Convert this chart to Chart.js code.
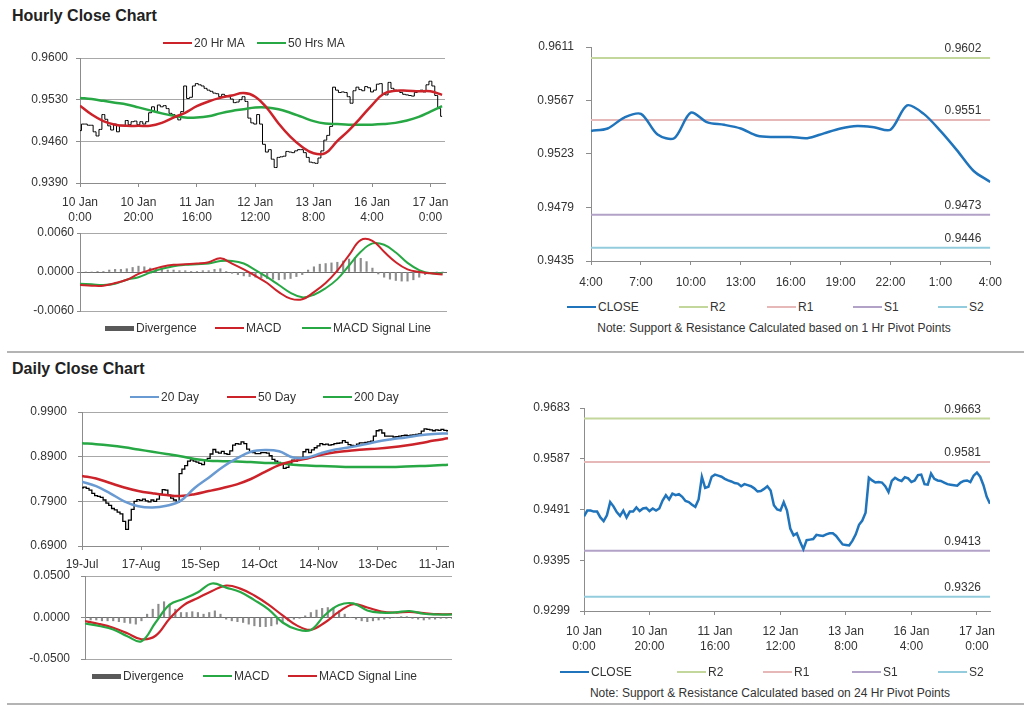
<!DOCTYPE html>
<html>
<head>
<meta charset="utf-8">
<script src="https://cdn.jsdelivr.net/npm/chart.js@4.4.0/dist/chart.umd.min.js"></script>
<style>
  body { margin: 0; width: 1024px; height: 706px; background: #fff; position: relative; overflow: hidden;
         font-family: "Liberation Sans", Arial, sans-serif; color: #333; }
  canvas { position: absolute; }
  .title { position: absolute; left: 12px; font-weight: bold; font-size: 16px; line-height: 18px; color: #222; }
  .sep { position: absolute; left: 7px; width: 1017px; height: 2px; background: #b4b4b4; }
  .lg { position: absolute; display: flex; align-items: center; font-size: 12px; line-height: 16px; white-space: nowrap; }
  .sw { display: inline-block; width: 29px; height: 2px; margin-right: 2px; }
  .box { display: inline-block; width: 29px; height: 5px; margin-right: 2px; }
  .note { position: absolute; font-size: 12px; line-height: 16px; white-space: nowrap; transform: translateX(-50%); }
</style>
</head>
<body>
<div class="title" style="top:7px">Hourly Close Chart</div>
<div class="sep" style="top:351px"></div>
<div class="title" style="top:360px">Daily Close Chart</div>
<div class="sep" style="top:703px"></div>

<canvas id="hourPrice"></canvas>
<canvas id="hourMacd"></canvas>
<canvas id="lastDay"></canvas>
<canvas id="dayPrice"></canvas>
<canvas id="dayMacd"></canvas>
<canvas id="weekClose"></canvas>

<div class="note" style="left:774px;top:320px">Note: Support &amp; Resistance Calculated based on 1 Hr Pivot Points</div>
<div class="note" style="left:770px;top:685px">Note: Support &amp; Resistance Calculated based on 24 Hr Pivot Points</div>

<script>
// ---- hourly closes, 10 Jan 0:00 -> 17 Jan 4:00 (one per hour)
const hourClose = [
  0.9478, 0.9489, 0.9489, 0.9487, 0.9487, 0.9476, 0.9469, 0.9480, 0.9505, 0.9497,
  0.9486, 0.9479, 0.9489, 0.9476, 0.9487, 0.9487, 0.9495, 0.9488, 0.9493, 0.9494,
  0.9488, 0.9493, 0.9489, 0.9493, 0.9508, 0.9518, 0.9510, 0.9521, 0.9518, 0.9520,
  0.9515, 0.9507, 0.9505, 0.9500, 0.9496, 0.9510, 0.9553, 0.9532, 0.9534, 0.9553,
  0.9557, 0.9555, 0.9553, 0.9549, 0.9546, 0.9544, 0.9541, 0.9540, 0.9535, 0.9539,
  0.9537, 0.9535, 0.9531, 0.9525, 0.9526, 0.9530, 0.9535, 0.9527, 0.9499, 0.9491,
  0.9489, 0.9505, 0.9489, 0.9455, 0.9442, 0.9446, 0.9430, 0.9416, 0.9433, 0.9434,
  0.9435, 0.9443, 0.9442, 0.9441, 0.9444, 0.9446, 0.9446, 0.9441, 0.9433, 0.9425,
  0.9424, 0.9423, 0.9432, 0.9444, 0.9462, 0.9470, 0.9485, 0.9551, 0.9546, 0.9542,
  0.9543, 0.9542, 0.9535, 0.9524, 0.9545, 0.9551, 0.9547, 0.9545, 0.9552, 0.9550,
  0.9543, 0.9546, 0.9556, 0.9557, 0.9539, 0.9538, 0.9559, 0.9549, 0.9546, 0.9545,
  0.9542, 0.9539, 0.9538, 0.9537, 0.9536, 0.9542, 0.9545, 0.9546, 0.9543, 0.9555,
  0.9561, 0.9553, 0.9537, 0.9515, 0.9502
];
// moving averages and MACD, read every 4 hours
const hourStep = 4;
const hourMa20 = [0.9520, 0.9505, 0.9494, 0.9488, 0.9486, 0.9486, 0.9486, 0.9491, 0.9500, 0.9508, 0.9519, 0.9527, 0.9533, 0.9537, 0.9541, 0.9535,
                  0.9516, 0.9490, 0.9468, 0.9451, 0.9440, 0.9440, 0.9460, 0.9478, 0.9499, 0.9521, 0.9540, 0.9545, 0.9545, 0.9544, 0.9544, 0.9538];
const hourMa50 = [0.9533, 0.9531, 0.9528, 0.9525, 0.9522, 0.9517, 0.9512, 0.9507, 0.9503, 0.9500, 0.9500, 0.9502, 0.9507, 0.9511, 0.9514, 0.9517,
                  0.9517, 0.9514, 0.9508, 0.9501, 0.9494, 0.9490, 0.9489, 0.9488, 0.9488, 0.9488, 0.9489, 0.9491, 0.9495, 0.9501, 0.9510, 0.9519];
const hourMacd = [-0.0020, -0.0021, -0.0021, -0.0017, -0.0012, -0.0003, 0.0003, 0.0008, 0.0011, 0.0012, 0.0013, 0.0015, 0.0021, 0.0013, 0.0004, -0.0006,
                  -0.0017, -0.0031, -0.0041, -0.0042, -0.0031, -0.0017, 0.0002, 0.0026, 0.0049, 0.0048, 0.0031, 0.0015, 0.0004, 0.0000, -0.0002, -0.0004];
const hourSignal = [-0.0018, -0.0019, -0.0020, -0.0018, -0.0012, -0.0008, -0.0001, 0.0005, 0.0009, 0.0011, 0.0012, 0.0013, 0.0017, 0.0017, 0.0013, 0.0003,
                    -0.0008, -0.0020, -0.0032, -0.0039, -0.0035, -0.0025, -0.0011, 0.0010, 0.0031, 0.0044, 0.0042, 0.0030, 0.0014, 0.0003, -0.0002, -0.0002];
// divergence, every 2 hours
const hourDivStep = 2;
const hourDiv = [
  0, 0, 0, 0.0001, 0.0001, 0.0003, 0.0004, 0.0004, 0.0005, 0.0007,
  0.0009, 0.0008, 0.0006, 0.0005, 0.0004, 0.0003, 0.0003, 0.0002, 0.0002, 0.0001,
  0.0001, 0.0002, 0.0002, 0.0004, 0.0005, 0.0001, -0.0002, -0.0004, -0.0006, -0.0007,
  -0.0008, -0.0009, -0.0010, -0.0011, -0.0012, -0.0011, -0.0010, -0.0007, -0.0004, 0.0003,
  0.0008, 0.0012, 0.0013, 0.0014, 0.0015, 0.0017, 0.0020, 0.0022, 0.0021, 0.0016,
  0.0006, -0.0003, -0.0008, -0.0011, -0.0013, -0.0014, -0.0014, -0.0012, -0.0008, -0.0004,
  -0.0001, 0, 0
];
const hourTicks = [0, 20, 40, 60, 80, 100, 120];
const hourTickLabels = [['10 Jan', '0:00'], ['10 Jan', '20:00'], ['11 Jan', '16:00'], ['12 Jan', '12:00'],
                        ['13 Jan', '8:00'], ['16 Jan', '4:00'], ['17 Jan', '0:00']];

// ---- last 24 hours
const lastClose = [0.9542, 0.9544, 0.9553, 0.9556, 0.9539, 0.9536, 0.9557, 0.9549, 0.9547, 0.9544, 0.9538, 0.9537, 0.9537,
                   0.9536, 0.9540, 0.9544, 0.9546, 0.9545, 0.9543, 0.9563, 0.9556, 0.9542, 0.9526, 0.9509, 0.9500];
const lastTicks = [0, 3, 6, 9, 12, 15, 18, 21, 24];
const lastTickLabels = ['4:00', '7:00', '10:00', '13:00', '16:00', '19:00', '22:00', '1:00', '4:00'];
const pivotNames = ['R2', 'R1', 'S1', 'S2'];
const pivot1h = [0.9602, 0.9551, 0.9473, 0.9446];
const pivot24h = [0.9663, 0.9581, 0.9413, 0.9326];

// ---- daily closes, 19-Jul -> mid Jan (trading days)
const dayClose = [
  0.820, 0.822, 0.819, 0.815, 0.808, 0.803, 0.801, 0.799, 0.793, 0.786,
  0.781, 0.774, 0.771, 0.766, 0.762, 0.745, 0.727, 0.748, 0.772, 0.790,
  0.794, 0.792, 0.795, 0.791, 0.789, 0.793, 0.790, 0.795, 0.806, 0.816,
  0.815, 0.804, 0.797, 0.793, 0.788, 0.852, 0.862, 0.870, 0.880, 0.883,
  0.880, 0.878, 0.875, 0.872, 0.882, 0.886, 0.896, 0.906, 0.900, 0.898,
  0.902, 0.897, 0.895, 0.903, 0.916, 0.919, 0.918, 0.923, 0.919, 0.907,
  0.901, 0.899, 0.897, 0.897, 0.899, 0.899, 0.898, 0.892, 0.884, 0.880,
  0.877, 0.873, 0.864, 0.866, 0.875, 0.882, 0.880, 0.884, 0.888, 0.901,
  0.906, 0.899, 0.905, 0.910, 0.914, 0.919, 0.917, 0.918, 0.916, 0.917,
  0.919, 0.920, 0.921, 0.926, 0.922, 0.917, 0.915, 0.914, 0.918, 0.921,
  0.921, 0.922, 0.923, 0.925, 0.936, 0.948, 0.950, 0.943, 0.936, 0.936,
  0.936, 0.934, 0.935, 0.936, 0.937, 0.938, 0.937, 0.938, 0.939, 0.940,
  0.941, 0.947, 0.952, 0.951, 0.950, 0.948, 0.950, 0.949, 0.951, 0.949,
  0.948
];
// moving averages and MACD, read every 5 days
const dayStep = 5;
const day20 = [0.834, 0.824, 0.808, 0.790, 0.779, 0.776, 0.780, 0.791, 0.820, 0.843, 0.867, 0.886, 0.901, 0.905,
               0.902, 0.888, 0.888, 0.898, 0.906, 0.911, 0.917, 0.924, 0.929, 0.933, 0.938, 0.941, 0.942];
const day50 = [0.847, 0.841, 0.831, 0.821, 0.813, 0.808, 0.804, 0.802, 0.806, 0.813, 0.820, 0.828, 0.840, 0.856,
               0.871, 0.880, 0.886, 0.894, 0.900, 0.903, 0.906, 0.908, 0.911, 0.915, 0.920, 0.926, 0.931];
const day200 = [0.920, 0.918, 0.915, 0.911, 0.906, 0.901, 0.896, 0.891, 0.885, 0.881, 0.880, 0.879, 0.878, 0.876,
                0.875, 0.872, 0.870, 0.869, 0.868, 0.867, 0.867, 0.867, 0.867, 0.868, 0.869, 0.870, 0.872];
const dayMacd = [-0.0072, -0.0102, -0.0144, -0.0226, -0.0285, -0.0060, 0.0155, 0.0225, 0.0305, 0.0410, 0.0360, 0.0308, 0.0210, 0.0098,
                 -0.0060, -0.0142, -0.0150, 0.0030, 0.0150, 0.0170, 0.0085, 0.0058, 0.0062, 0.0078, 0.0045, 0.0036, 0.0036];
const daySignal = [-0.0044, -0.0078, -0.0124, -0.0190, -0.0262, -0.0220, -0.0012, 0.0150, 0.0235, 0.0320, 0.0385, 0.0348, 0.0265, 0.0155,
                   0.0025, -0.0095, -0.0148, -0.0060, 0.0070, 0.0160, 0.0120, 0.0072, 0.0060, 0.0066, 0.0052, 0.0040, 0.0040];
const dayDivStep = 2;
const dayDiv = [
  -0.002, -0.003, -0.003, -0.004, -0.004, -0.004, -0.005, -0.006, -0.007, -0.008,
  -0.004, 0.004, 0.010, 0.016, 0.019, 0.016, 0.010, 0.006, 0.006, 0.007,
  0.006, 0.004, 0.006, 0.008, 0.004, -0.002, -0.004, -0.005, -0.006, -0.008,
  -0.010, -0.011, -0.011, -0.010, -0.008, -0.006, -0.004, -0.002, -0.001, 0.002,
  0.006, 0.009, 0.011, 0.012, 0.011, 0.008, 0.004, 0.000, -0.002, -0.004,
  -0.005, -0.004, -0.003, -0.002, -0.001, 0.000, 0.001, 0.001, -0.001, -0.002,
  -0.003, -0.002, -0.002, -0.001, -0.001, -0.001
];
const dayTicks = [0, 21, 42, 63, 84, 105, 126];
const dayTickLabels = ['19-Jul', '17-Aug', '15-Sep', '14-Oct', '14-Nov', '13-Dec', '11-Jan'];

// y axis ticks
const hourPriceTicks = [0.9390, 0.9460, 0.9530, 0.9600];
const hourMacdTicks = [-0.0060, 0, 0.0060];
const lastTicksY = [0.9435, 0.9479, 0.9523, 0.9567, 0.9611];
const dayPriceTicks = [0.6900, 0.7900, 0.8900, 0.9900];
const dayMacdTicks = [-0.0500, 0, 0.0500];
const weekTicksY = [0.9299, 0.9395, 0.9491, 0.9587, 0.9683];

// colours
const RED = '#cc2229', GREEN = '#27a844', BLUE = '#6a9ad2', CLOSE = '#1f74bb', DIV = '#8c8c8c';
const pivotColors = ['#c3d69b', '#e6b9b8', '#b3a2c7', '#93cddd'];
const GRID = '#a8a8a8', AXIS = '#8c8c8c', TXT = '#333';

Chart.defaults.font.family = '"Liberation Sans", Arial, sans-serif';
Chart.defaults.font.size = 12;
Chart.defaults.font.lineHeight = '14px';
Chart.defaults.color = TXT;

function pts(values, step) {
  return values.map((v, k) => ({ x: k * step, y: v }));
}

function lineSet(values, step, color, width, extra) {
  return Object.assign({ data: pts(values, step), borderColor: color, borderWidth: width, tension: 0.4 }, extra || {});
}

function divSet(values, step) {
  return { type: 'bar', data: pts(values, step), backgroundColor: DIV, barThickness: 1.5 };
}

function pivotSets(levels, xMax) {
  return levels.map((v, k) => ({
    data: [{ x: 0, y: v }, { x: xMax, y: v }], borderColor: pivotColors[k], borderWidth: 2, pivot: v, label: pivotNames[k]
  }));
}

// prints the pivot value above its line at the right
const pivotLabels = {
  id: 'pivotLabels',
  afterDatasetsDraw(chart) {
    const ctx = chart.ctx;
    ctx.save();
    ctx.font = '12px "Liberation Sans", Arial, sans-serif';
    ctx.fillStyle = TXT;
    ctx.textAlign = 'right';
    ctx.textBaseline = 'alphabetic';
    chart.data.datasets.forEach(ds => {
      if (ds.pivot === undefined) return;
      const y = chart.scales.y.getPixelForValue(ds.pivot);
      ctx.fillText(ds.pivot.toFixed(4), chart.chartArea.right - 9, y - 6);
    });
    ctx.restore();
  }
};

// o.box = [left, top, right, bottom] of the plot area on the page
function panel(id, o) {
  const canvas = document.getElementById(id);
  const [left, top, right, bottom] = o.box;
  const edge = 7 + o.yPad;            // chart.js keeps half a tick label + padding above/below
  const xh = o.xLabels ? o.xHeight : edge;
  canvas.width = o.yWidth + (right - left) + o.padRight;
  canvas.height = edge + (bottom - top) + xh;
  canvas.style.left = (left - o.yWidth) + 'px';
  canvas.style.top = (top - edge) + 'px';

  const xScale = {
    type: 'linear', min: 0, max: o.xMax, offset: false,
    display: !!o.xLabels,
    afterBuildTicks: s => { s.ticks = o.xTicks.map(v => ({ value: v })); },
    afterFit: s => { s.height = o.xHeight || 0; },
    ticks: { autoSkip: false, maxRotation: 0, padding: o.xPad || 8, font: { lineHeight: '15px' },
             callback: (v, i) => o.xLabels ? o.xLabels[i] : '' },
    grid: { drawOnChartArea: false, tickLength: 4, tickColor: AXIS },
    border: { color: AXIS }
  };
  const yScale = {
    min: o.yTicks[0], max: o.yTicks[o.yTicks.length - 1],
    afterBuildTicks: s => { s.ticks = o.yTicks.map(v => ({ value: v })); },
    afterFit: s => { s.width = o.yWidth; },
    ticks: { padding: o.yPad, callback: v => v.toFixed(4) },
    grid: {
      drawOnChartArea: !!o.yGrid, tickLength: o.yTick || 4, tickColor: AXIS,
      color: c => (c.tick && c.tick.value === 0) ? '#6e6e6e' : GRID
    },
    border: { color: AXIS }
  };
  return new Chart(canvas, {
    type: 'line',
    data: { datasets: o.datasets },
    options: {
      responsive: false, animation: false,
      layout: { padding: { top: 0, right: o.padRight, left: 0, bottom: 0 } },
      plugins: { legend: { display: false }, tooltip: { enabled: false } },
      elements: { point: { radius: 0 } },
      scales: { x: xScale, y: yScale }
    },
    plugins: [pivotLabels]
  });
}

// 1. hourly price with moving averages
panel('hourPrice', {
  datasets: [
    lineSet(hourMa20, hourStep, RED, 2.5),
    lineSet(hourMa50, hourStep, GREEN, 2.5),
    { data: pts(hourClose, 1), borderColor: '#000', borderWidth: 1, stepped: 'middle' }
  ],
  box: [80, 58, 445, 183], xMax: 125, xTicks: hourTicks, xLabels: hourTickLabels, xHeight: 47, xPad: 8,
  yTicks: hourPriceTicks, yWidth: 80, yPad: 8, yGrid: true, padRight: 20
});

// 2. hourly MACD
panel('hourMacd', {
  datasets: [
    lineSet(hourMacd, hourStep, RED, 2),
    lineSet(hourSignal, hourStep, GREEN, 2),
    divSet(hourDiv, hourDivStep)
  ],
  box: [80, 233, 447, 311], xMax: 125.5, xTicks: hourTicks,
  yTicks: hourMacdTicks, yWidth: 80, yPad: 3, yTick: 3, yGrid: true, padRight: 20
});

// 3. last 24 hours with 1 hr pivots
panel('lastDay', {
  datasets: [lineSet(lastClose, 1, CLOSE, 2.5, { tension: 0.3 })].concat(pivotSets(pivot1h, 24)),
  box: [591, 47, 997, 261], xMax: 24, xTicks: lastTicks, xLabels: lastTickLabels, xHeight: 32, xPad: 10,
  yTicks: lastTicksY, yWidth: 91, yPad: 12, yTick: 5, padRight: 15
});

// 4. daily price with moving averages
panel('dayPrice', {
  datasets: [
    lineSet(day20, dayStep, BLUE, 2.5),
    lineSet(day50, dayStep, RED, 2.5),
    lineSet(day200, dayStep, GREEN, 2.5),
    { data: pts(dayClose, 1), borderColor: '#000', borderWidth: 1.3, stepped: 'middle' }
  ],
  box: [82, 412, 448, 546], xMax: 130, xTicks: dayTicks, xLabels: dayTickLabels, xHeight: 26, xPad: 7,
  yTicks: dayPriceTicks, yWidth: 82, yPad: 11, yGrid: true, padRight: 20
});

// 5. daily MACD
panel('dayMacd', {
  datasets: [
    lineSet(dayMacd, dayStep, GREEN, 2.2),
    lineSet(daySignal, dayStep, RED, 2.2),
    divSet(dayDiv, dayDivStep)
  ],
  box: [85, 576, 452, 659], xMax: 130, xTicks: dayTicks,
  yTicks: dayMacdTicks, yWidth: 85, yPad: 11, yGrid: true, padRight: 20
});

// 6. hourly close with 24 hr pivots
panel('weekClose', {
  datasets: [lineSet(hourClose, 1, CLOSE, 2.5, { tension: 0 })].concat(pivotSets(pivot24h, 124)),
  box: [584, 408, 990, 611], xMax: 124, xTicks: hourTicks, xLabels: hourTickLabels, xHeight: 44, xPad: 9,
  yTicks: weekTicksY, yWidth: 84, yPad: 10, padRight: 15
});

// legends
function legend(y, items) {
  items.forEach(it => {
    const d = document.createElement('div');
    d.className = 'lg';
    d.style.left = it[0] + 'px';
    d.style.top = (y - 8) + 'px';
    const sw = document.createElement('span');
    sw.className = it[3] ? 'box' : 'sw';
    sw.style.background = it[1];
    d.appendChild(sw);
    d.appendChild(document.createTextNode(it[2]));
    document.body.appendChild(d);
  });
}
legend(43, [[163, RED, '20 Hr MA'], [257, GREEN, '50 Hrs MA']]);
legend(328, [[105, '#595959', 'Divergence', true], [215, RED, 'MACD'], [302, GREEN, 'MACD Signal Line']]);
legend(307, [[567, CLOSE, 'CLOSE']].concat(pivotNames.map((n, k) => [[679, 767, 853, 938][k], pivotColors[k], n])));
legend(397, [[130, BLUE, '20 Day'], [227, RED, '50 Day'], [323, GREEN, '200 Day']]);
legend(676, [[92, '#595959', 'Divergence', true], [203, GREEN, 'MACD'], [288, RED, 'MACD Signal Line']]);
legend(672, [[560, CLOSE, 'CLOSE']].concat(pivotNames.map((n, k) => [[677, 763, 852, 938][k], pivotColors[k], n])));
</script>
</body>
</html>
